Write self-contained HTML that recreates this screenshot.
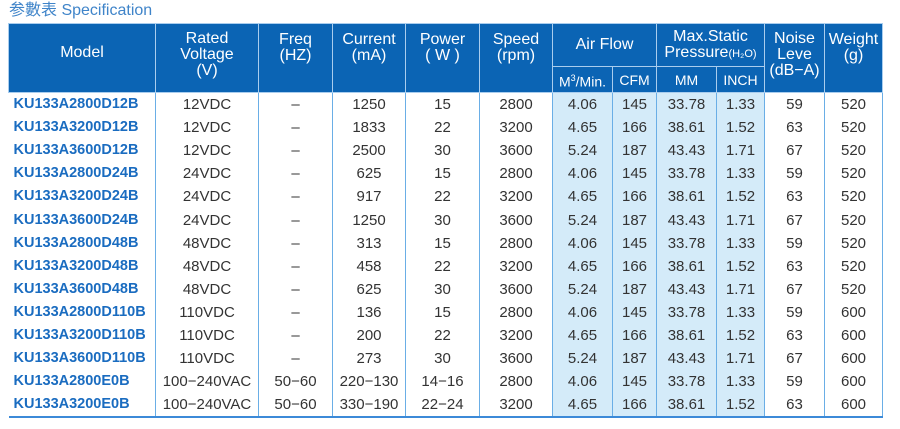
<!DOCTYPE html>
<html><head><meta charset="utf-8"><style>
body{margin:0;width:900px;height:429px;background:#fff;font-family:"Liberation Sans","Noto Sans CJK TC",sans-serif;overflow:hidden}
.t{position:absolute;left:9px;top:0px;font-size:16px;color:#3f84c9;line-height:21px}
table{position:absolute;left:8px;top:23px;border-collapse:collapse;table-layout:fixed}
th{background:#0b64b4;color:#fff;font-weight:normal;font-size:16px;line-height:16px;border:1.5px solid #a9cdee;padding:0;text-align:center}
td{font-size:15px;color:#333;text-align:center;height:23.1px;padding:0;border-left:1.5px solid #6aaee6;border-right:1.5px solid #6aaee6;line-height:23px}
td.m{color:#1a6cc0;font-weight:bold;text-align:left;padding-left:5px;border-left:none;font-size:14.5px}
td.b{background:#d4ebf9}
tr:last-child td{border-bottom:2px solid #3c8ad8}
.s{font-size:11px}
</style></head><body>
<div class="t">参數表 Specification</div>
<table>
<colgroup><col style="width:147px"><col style="width:103px"><col style="width:74px"><col style="width:73px"><col style="width:74px"><col style="width:73px"><col style="width:60px"><col style="width:44px"><col style="width:60px"><col style="width:48px"><col style="width:60px"><col style="width:58px"></colgroup>
<tr style="height:43px"><th rowspan="2" style="padding-bottom:10px">Model</th><th rowspan="2" style="padding-bottom:6px">Rated<br>Voltage<br>(V)</th><th rowspan="2" style="vertical-align:top;padding-top:8px">Freq<br>(HZ)</th><th rowspan="2" style="vertical-align:top;padding-top:8px">Current<br>(mA)</th><th rowspan="2" style="vertical-align:top;padding-top:8px">Power<br>( W )</th><th rowspan="2" style="vertical-align:top;padding-top:8px">Speed<br>(rpm)</th><th colspan="2">Air Flow</th><th colspan="2">Max.Static<br>Pressure<span class="s">(H₂O)</span></th><th rowspan="2" style="padding-bottom:6px">Noise<br>Leve<br>(dB−A)</th><th rowspan="2" style="vertical-align:top;padding-top:8px">Weight<br>(g)</th></tr>
<tr style="height:26px"><th style="font-size:14px">M<sup style="font-size:9px">3</sup>/Min.</th><th style="font-size:14px">CFM</th><th style="font-size:14px">MM</th><th style="font-size:14px">INCH</th></tr>
<tr><td class="m">KU133A2800D12B</td><td>12VDC</td><td>–</td><td>1250</td><td>15</td><td>2800</td><td class="b">4.06</td><td class="b">145</td><td class="b">33.78</td><td class="b">1.33</td><td>59</td><td>520</td></tr>
<tr><td class="m">KU133A3200D12B</td><td>12VDC</td><td>–</td><td>1833</td><td>22</td><td>3200</td><td class="b">4.65</td><td class="b">166</td><td class="b">38.61</td><td class="b">1.52</td><td>63</td><td>520</td></tr>
<tr><td class="m">KU133A3600D12B</td><td>12VDC</td><td>–</td><td>2500</td><td>30</td><td>3600</td><td class="b">5.24</td><td class="b">187</td><td class="b">43.43</td><td class="b">1.71</td><td>67</td><td>520</td></tr>
<tr><td class="m">KU133A2800D24B</td><td>24VDC</td><td>–</td><td>625</td><td>15</td><td>2800</td><td class="b">4.06</td><td class="b">145</td><td class="b">33.78</td><td class="b">1.33</td><td>59</td><td>520</td></tr>
<tr><td class="m">KU133A3200D24B</td><td>24VDC</td><td>–</td><td>917</td><td>22</td><td>3200</td><td class="b">4.65</td><td class="b">166</td><td class="b">38.61</td><td class="b">1.52</td><td>63</td><td>520</td></tr>
<tr><td class="m">KU133A3600D24B</td><td>24VDC</td><td>–</td><td>1250</td><td>30</td><td>3600</td><td class="b">5.24</td><td class="b">187</td><td class="b">43.43</td><td class="b">1.71</td><td>67</td><td>520</td></tr>
<tr><td class="m">KU133A2800D48B</td><td>48VDC</td><td>–</td><td>313</td><td>15</td><td>2800</td><td class="b">4.06</td><td class="b">145</td><td class="b">33.78</td><td class="b">1.33</td><td>59</td><td>520</td></tr>
<tr><td class="m">KU133A3200D48B</td><td>48VDC</td><td>–</td><td>458</td><td>22</td><td>3200</td><td class="b">4.65</td><td class="b">166</td><td class="b">38.61</td><td class="b">1.52</td><td>63</td><td>520</td></tr>
<tr><td class="m">KU133A3600D48B</td><td>48VDC</td><td>–</td><td>625</td><td>30</td><td>3600</td><td class="b">5.24</td><td class="b">187</td><td class="b">43.43</td><td class="b">1.71</td><td>67</td><td>520</td></tr>
<tr><td class="m">KU133A2800D110B</td><td>110VDC</td><td>–</td><td>136</td><td>15</td><td>2800</td><td class="b">4.06</td><td class="b">145</td><td class="b">33.78</td><td class="b">1.33</td><td>59</td><td>600</td></tr>
<tr><td class="m">KU133A3200D110B</td><td>110VDC</td><td>–</td><td>200</td><td>22</td><td>3200</td><td class="b">4.65</td><td class="b">166</td><td class="b">38.61</td><td class="b">1.52</td><td>63</td><td>600</td></tr>
<tr><td class="m">KU133A3600D110B</td><td>110VDC</td><td>–</td><td>273</td><td>30</td><td>3600</td><td class="b">5.24</td><td class="b">187</td><td class="b">43.43</td><td class="b">1.71</td><td>67</td><td>600</td></tr>
<tr><td class="m">KU133A2800E0B</td><td>100−240VAC</td><td>50−60</td><td>220−130</td><td>14−16</td><td>2800</td><td class="b">4.06</td><td class="b">145</td><td class="b">33.78</td><td class="b">1.33</td><td>59</td><td>600</td></tr>
<tr><td class="m">KU133A3200E0B</td><td>100−240VAC</td><td>50−60</td><td>330−190</td><td>22−24</td><td>3200</td><td class="b">4.65</td><td class="b">166</td><td class="b">38.61</td><td class="b">1.52</td><td>63</td><td>600</td></tr>
</table>
</body></html>
